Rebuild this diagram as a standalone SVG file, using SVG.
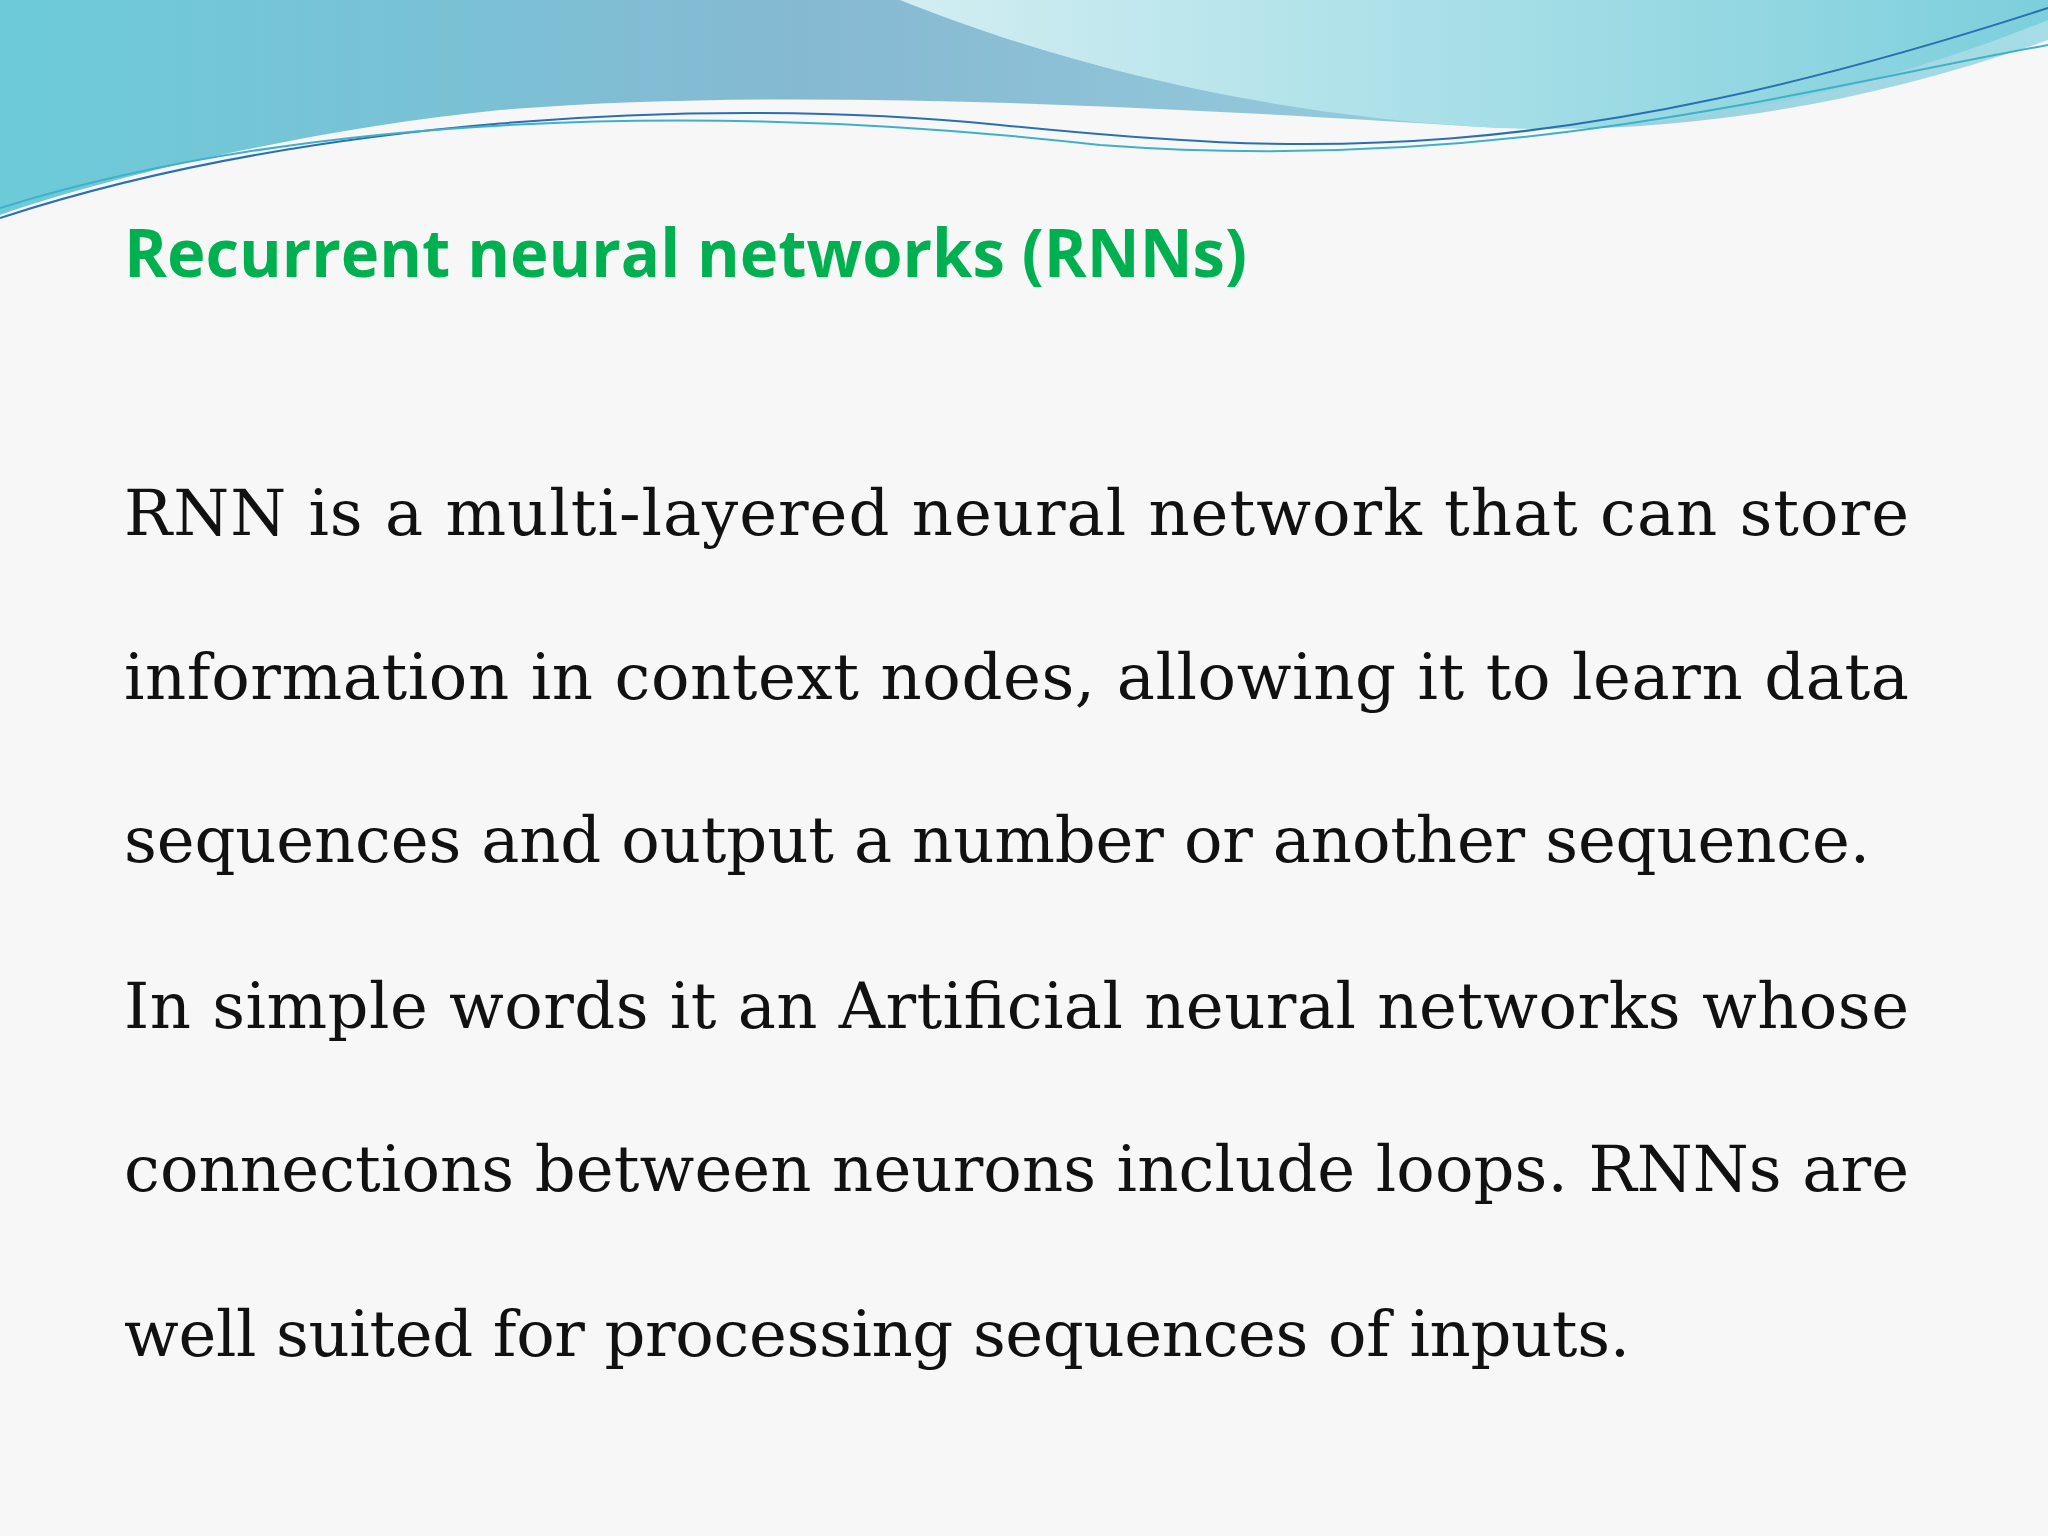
<svg xmlns="http://www.w3.org/2000/svg" width="2048" height="1536" viewBox="0 0 2048 1536">
<style>
.t{font-family:"Open Sans","Noto Sans",sans-serif;font-weight:bold;font-size:66px;fill:#00b050}
.b{font-family:"DejaVu Serif","Noto Serif",serif;font-size:64px;fill:#111}
</style>
<defs>
<linearGradient id="g1" x1="0" y1="0" x2="1" y2="0">
<stop offset="0" stop-color="#6ccbd8"/><stop offset="0.4" stop-color="#86b9d2"/><stop offset="1" stop-color="#a6dde6"/>
</linearGradient>
<linearGradient id="g2" x1="0" y1="0" x2="1" y2="0">
<stop offset="0" stop-color="#d2eef2"/><stop offset="1" stop-color="#7ccfdc"/>
</linearGradient>
</defs>
<rect width="2048" height="1536" fill="#f7f7f7"/>
<g id="waves">
<path d="M0,0 H2048 V40 C1850,110 1650,140 1450,125 C1200,110 800,85 500,110 C300,130 100,180 0,215 Z" fill="url(#g1)"/>
<path d="M900,0 C1050,60 1250,115 1500,128 C1700,135 1900,80 2048,20 V0 Z" fill="url(#g2)"/>
<path d="M0,218 C300,120 700,95 1000,125 C1300,155 1550,170 2048,8" fill="none" stroke="#2a6fb0" stroke-width="2"/>
<path d="M0,208 C300,115 700,100 1100,145 C1500,175 1800,90 2048,45" fill="none" stroke="#3fb0c8" stroke-width="2"/>
</g>
<g id="title"><text class="t" x="124" y="277" textLength="1123" lengthAdjust="spacingAndGlyphs">Recurrent neural networks (RNNs)</text></g>
<g id="body">
<text class="b" x="124" y="535" textLength="1785" lengthAdjust="spacing">RNN is a multi-layered neural network that can store</text>
<text class="b" x="124" y="699" textLength="1785" lengthAdjust="spacing">information in context nodes, allowing it to learn data</text>
<text class="b" x="124" y="862" textLength="1746" lengthAdjust="spacing">sequences and output a number or another sequence.</text>
<text class="b" x="124" y="1028" textLength="1785" lengthAdjust="spacing">In simple words it an Artificial neural networks whose</text>
<text class="b" x="124" y="1191" textLength="1785" lengthAdjust="spacing">connections between neurons include loops. RNNs are</text>
<text class="b" x="124" y="1356" textLength="1506" lengthAdjust="spacing">well suited for processing sequences of inputs.</text>
</g>
</svg>
